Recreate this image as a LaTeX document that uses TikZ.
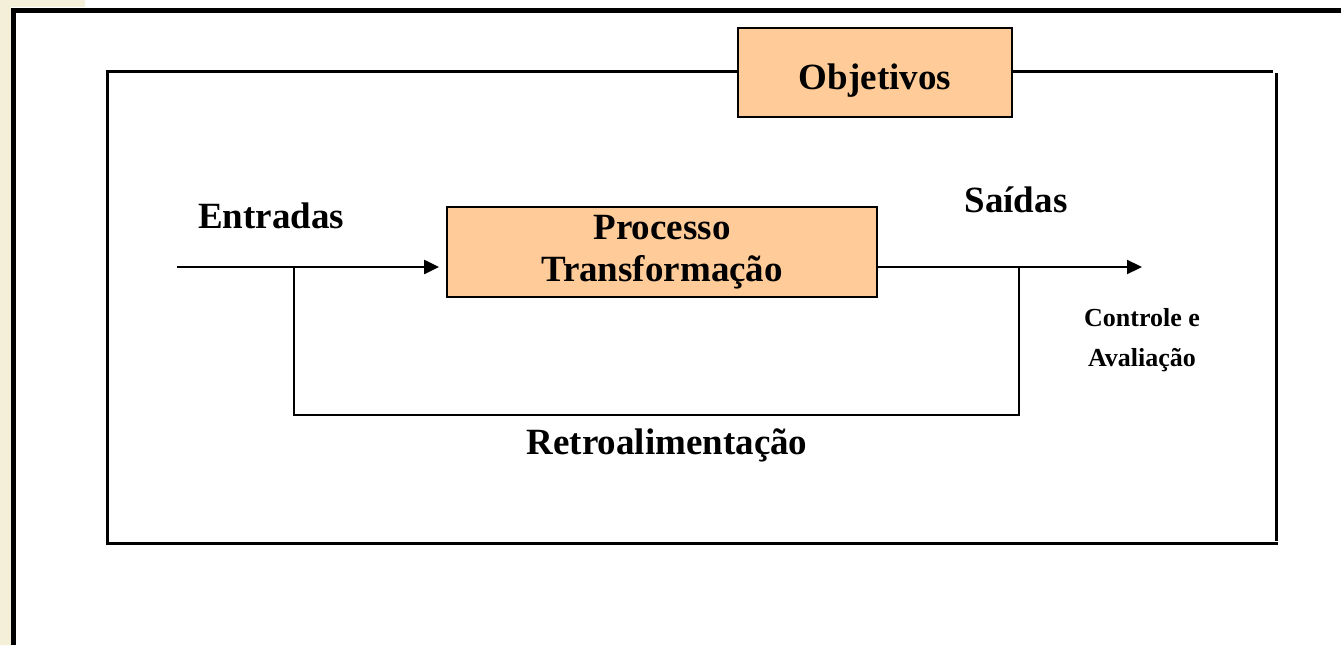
\documentclass[tikz,border=0pt]{standalone}
\usepackage{fontspec}
\setmainfont{Liberation Serif}
\usetikzlibrary{arrows.meta}
\definecolor{peach}{HTML}{FFCC99}
\definecolor{paper}{HTML}{F4EFD8}
\begin{document}
\begin{tikzpicture}[x=1pt,y=-1pt,>={Triangle[length=15pt,width=14pt]},line join=miter,
		font=\fontsize{37}{42}\selectfont\bfseries,
		frame/.style={line width=3.5pt},
		wire/.style={line width=2.2pt},
		block/.style={draw,line width=1.8pt,fill=peach,align=center,inner sep=0pt},
		small/.style={font=\fontsize{26}{30}\selectfont\bfseries}]
		\useasboundingbox (0,0) rectangle (1341,645);
		\fill[paper] (0,0) rectangle (11,645);
		\fill[paper] (0,0) rectangle (85,7);
		\draw[line width=5pt] (13.5,645)--(13.5,10.5)--(1341,10.5);
		\node[block,minimum width=274pt,minimum height=89pt] (obj) at (875,72.5) {\raisebox{-17pt}[0pt][0pt]{Objetivos}};
		\draw[frame] (106,71.5)--(obj.west|-0,71.5);
		\draw[frame] (obj.east|-0,71.5)--(1273,71.5);
		\draw[frame] (107.5,73)--(107.5,543);
		\draw[frame] (1276.5,73)--(1276.5,541);
		\draw[frame] (106,543.5)--(1278,543.5);
		\node[block,minimum width=430pt,minimum height=90pt] (proc) at (662,252) {Processo\\Transforma\c{c}\~ao};
		\coordinate (in) at (177,267);
		\coordinate (split) at (294,267);
		\coordinate (tap) at (1019,267);
		\coordinate (out) at (1142,267);
		\coordinate (fbl) at (294,415);
		\coordinate (fbr) at (1019,415);
		\draw[wire,->,shorten >=7pt] (in)--(in-|proc.west);
		\draw[wire,->] (tap-|proc.east)--(out);
		\draw[wire] (split)--(fbl)--(fbr)--(tap);
		\node (entradas) at (271,216) {Entradas};
		\node (saidas) at (1016,200) {Sa\'idas};
		\node (retro) at (667,445) {Retroalimenta\c{c}\~ao};
		\node[small] (controle) at (1142,318) {Controle e};
		\node[small] (aval) at (1142,360) {Avalia\c{c}\~ao};
\end{tikzpicture}
\end{document}
